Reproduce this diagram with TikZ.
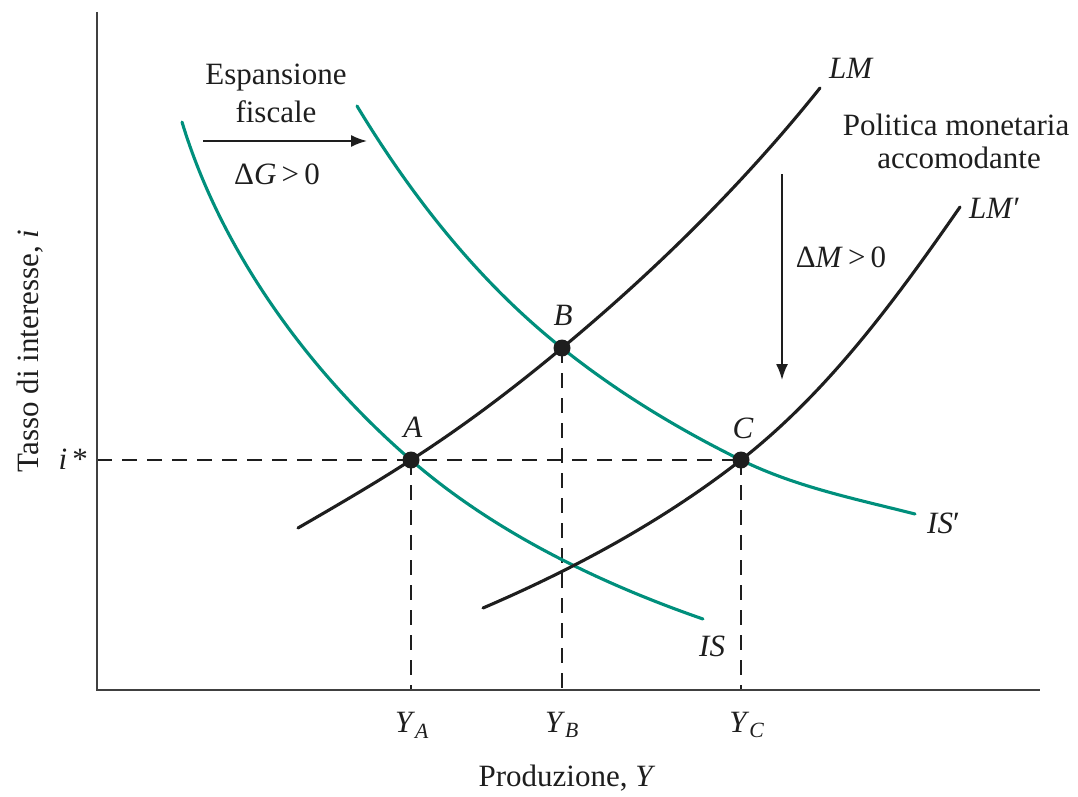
\documentclass[tikz,border=0pt]{standalone}
\usepackage{fontspec}
\setmainfont{Liberation Serif}
\usetikzlibrary{arrows.meta}
\definecolor{isteal}{RGB}{0,143,124}
\definecolor{ink}{RGB}{30,30,30}
\begin{document}
\begin{tikzpicture}[x=1pt,y=-1pt,
  curvebase/.style={line width=3.1pt, line cap=round},
  iscurve/.style={curvebase, draw=isteal},
  lmcurve/.style={curvebase, draw=ink},
  axisline/.style={line width=2.4pt, draw=black!75},
  guide/.style={line width=1.8pt, draw=ink, dash pattern=on 15pt off 10pt},
  eqdot/.style={circle, fill=ink, inner sep=0pt, minimum size=17pt},
  lbl/.style={font=\fontsize{31}{36}\selectfont, text=ink, inner sep=0pt},
  shiftarrow/.style={line width=1.8pt, draw=ink, -{Latex[length=16pt,width=12pt]}}]
\useasboundingbox (0,0) rectangle (1078,797);

% key coordinates
\coordinate (O) at (97,690);
\coordinate (ytop) at (97,12);
\coordinate (xend) at (1040,690);
\coordinate (A) at (411,460);
\coordinate (B) at (562,348);
\coordinate (C) at (741,460);
\coordinate (istar) at (97,460);
\coordinate (YAa) at (411,690);
\coordinate (YBb) at (562,690);
\coordinate (YCc) at (741,690);
\coordinate (ISs) at (182,122);
\coordinate (ISe) at (703,619);
\coordinate (ISps) at (357,106);
\coordinate (ISpe) at (915,514);
\coordinate (LMs) at (298,528);
\coordinate (LMe) at (820,88);
\coordinate (LMps) at (483,608);
\coordinate (LMpe) at (960,207);

% dashed guides
\draw[guide] (istar) -- (C);
\draw[guide] (A) -- (YAa);
\draw[guide] (B) -- (YBb);
\draw[guide] (C) -- (YCc);

% axes
\draw[axisline] (ytop) -- (O) -- (xend);

% IS
\draw[iscurve] (ISs) .. controls (221,251) and (309,372) .. (A)
  .. controls (494,532) and (599,583) .. (ISe);
% IS'
\draw[iscurve] (ISps) .. controls (412,197) and (479,282) .. (B)
  .. controls (617,392) and (678,429) .. (C)
  .. controls (796,487) and (856,499) .. (ISpe);
% LM
\draw[lmcurve] (LMs) .. controls (336,506) and (374,484) .. (A)
  .. controls (464,426) and (514,388) .. (B)
  .. controls (656,270) and (744,183) .. (LMe);
% LM'
\draw[lmcurve] (LMps) .. controls (574,569) and (663,521) .. (C)
  .. controls (829,391) and (896,299) .. (LMpe);

% equilibrium dots
\node[eqdot] (dA) at (A) {};
\node[eqdot] (dB) at (B) {};
\node[eqdot] (dC) at (C) {};

% point labels
\node[lbl] (lA) at (413,427) {\textit{A}};
\node[lbl] (lB) at (563,315) {\textit{B}};
\node[lbl] (lC) at (743,428) {\textit{C}};

% curve labels
\node[lbl, anchor=west] (lLM) at (829,68) {\textit{LM}};
\node[lbl, anchor=west] (lLMp) at (969,208) {\textit{LM}\/′};
\node[lbl, anchor=west] (lISp) at (927,523) {\textit{IS}\/′};
\node[lbl, anchor=west] (lIS) at (699,646) {\textit{IS}};

% fiscal expansion
\node[lbl] (esp) at (276,78) {Espansione};
\node[lbl] (fis) at (276,112) {fiscale};
\coordinate (fa1) at (203,141);
\coordinate (fa2) at (367,141);
\draw[shiftarrow] (fa1) -- (fa2);
\node[lbl] (dG) at (277,174) {Δ\textit{G}\,>\,0};

% monetary policy
\node[lbl] (pol) at (956,125) {Politica monetaria};
\node[lbl] (acc) at (959,158) {accomodante};
\coordinate (ma1) at (782,174);
\coordinate (ma2) at (782,380);
\draw[shiftarrow] (ma1) -- (ma2);
\node[lbl] (dM) at (841,257) {Δ\textit{M}\,>\,0};

% axis labels
\node[lbl, anchor=east] (ist) at (88,459) {\textit{i}\,*};
\node[lbl] (ya) at (412,725) {\textit{Y}\textsubscript{\textit{A}}};
\node[lbl] (yb) at (562,725) {\textit{Y}\textsubscript{\textit{B}}};
\node[lbl] (yc) at (747,725) {\textit{Y}\textsubscript{\textit{C}}};
\node[lbl] (xl) at (567,778) {Produzione, \textit{Y}};
\node[lbl, rotate=90] (yl) at (30,351) {Tasso di interesse, \textit{i}};
\end{tikzpicture}
\end{document}
